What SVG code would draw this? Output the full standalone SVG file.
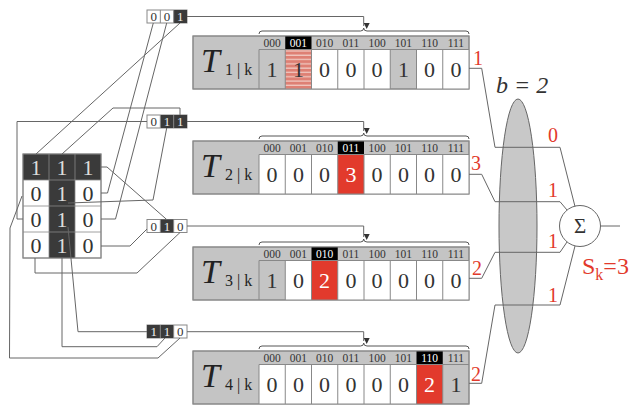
<svg xmlns="http://www.w3.org/2000/svg" width="641" height="405" viewBox="0 0 641 405" font-family="'Liberation Serif', 'DejaVu Serif', 'Noto Serif', serif">
<style>
text{font-family:'Liberation Serif','DejaVu Serif','Noto Serif',serif}
.w{fill:none;stroke:#666;stroke-width:1}
.g{fill:#c4c4c4}
.dk{fill:#3a3a3a}
.rd{fill:#e23a2c}
.hd{font-size:11.5px;fill:#333;text-anchor:middle}
.hw{font-size:11.5px;fill:#fff;text-anchor:middle}
.v{font-size:22px;fill:#333;text-anchor:middle}
.vw{font-size:22px;fill:#fff;text-anchor:middle}
.sm{font-size:13px;fill:#333;text-anchor:middle}
.smw{font-size:13px;fill:#eee;text-anchor:middle}
.gv{font-size:22px;fill:#333;text-anchor:middle}
.gvw{font-size:22px;fill:#ddd;text-anchor:middle}
.T{font-size:34px;font-style:italic;fill:#222}
.sub{font-size:16px;fill:#222}
.red{font-size:20px;fill:#e23a2c;text-anchor:middle}
.br{fill:none;stroke:#555;stroke-width:1}
</style>
<defs>
<pattern id="stripe" patternUnits="userSpaceOnUse" width="4" height="4.3">
<rect width="4" height="4.3" fill="#de8074"/>
<rect y="3" width="4" height="1.3" fill="#f0c8c0"/>
</pattern>
<marker id="ah" viewBox="0 0 6 6" refX="3" refY="6" markerWidth="6" markerHeight="6" orient="auto" markerUnits="userSpaceOnUse">
<path d="M0,0 L6,0 L3,6 Z" fill="#333" transform="rotate(-90 3 3)"/>
</marker>
</defs>

<g id="grid">
<rect x="23" y="154" width="78" height="104" fill="#fff" stroke="#888"/>
<rect x="23" y="154" width="78" height="26" class="dk"/>
<rect x="49" y="154" width="26" height="104" class="dk"/>
<path d="M23,180 H101 M23,206 H101 M23,232 H101 M49,154 V258 M75,154 V258" stroke="#888" stroke-width="0.8" fill="none"/>
<rect x="23" y="154" width="78" height="104" fill="none" stroke="#888"/>
<text x="36" y="175" class="gvw">1</text><text x="62" y="175" class="gvw">1</text><text x="88" y="175" class="gvw">1</text>
<text x="36" y="201" class="gv">0</text><text x="62" y="201" class="gvw">1</text><text x="88" y="201" class="gv">0</text>
<text x="36" y="227" class="gv">0</text><text x="62" y="227" class="gvw">1</text><text x="88" y="227" class="gv">0</text>
<text x="36" y="253" class="gv">0</text><text x="62" y="253" class="gvw">1</text><text x="88" y="253" class="gv">0</text>
</g>

<g id="box001">
<rect x="147" y="10" width="40" height="13" fill="#fff" stroke="#888"/>
<rect x="173.67" y="10" width="13.33" height="13" class="dk"/>
<path d="M160.33,10 V23 M173.67,10 V23" stroke="#888"/>
<text x="153.7" y="21" class="sm">0</text><text x="167" y="21" class="sm">0</text><text x="180.3" y="21" class="smw">1</text>
</g>
<g id="box011">
<rect x="147" y="115" width="40" height="13" fill="#fff" stroke="#888"/>
<rect x="160.33" y="115" width="26.67" height="13" class="dk"/>
<path d="M160.33,115 V128 M173.67,115 V128" stroke="#888"/>
<text x="153.7" y="126" class="sm">0</text><text x="167" y="126" class="smw">1</text><text x="180.3" y="126" class="smw">1</text>
</g>
<g id="box010">
<rect x="147" y="219.5" width="40" height="13" fill="#fff" stroke="#888"/>
<rect x="160.33" y="219.5" width="13.33" height="13" class="dk"/>
<path d="M160.33,219.5 V232.5 M173.67,219.5 V232.5" stroke="#888"/>
<text x="153.7" y="230.5" class="sm">0</text><text x="167" y="230.5" class="smw">1</text><text x="180.3" y="230.5" class="sm">0</text>
</g>
<g id="box110">
<rect x="147" y="325" width="40" height="13" fill="#fff" stroke="#888"/>
<rect x="147" y="325" width="26.67" height="13" class="dk"/>
<path d="M160.33,325 V338 M173.67,325 V338" stroke="#888"/>
<text x="153.7" y="336" class="smw">1</text><text x="167" y="336" class="smw">1</text><text x="180.3" y="336" class="sm">0</text>
</g>

<g id="T1">
<rect x="193" y="36" width="276" height="53" class="g" stroke="#888"/>
<rect x="285.25" y="36" width="26.25" height="13.5" fill="#000"/>
<rect x="285.25" y="49.5" width="26.25" height="39.5" fill="url(#stripe)"/>
<rect x="311.5" y="49.5" width="78.75" height="39.5" fill="#fff"/>
<rect x="416.5" y="49.5" width="52.5" height="39.5" fill="#fff"/>
<path d="M259,49.5 H469 M259,49.5 V89 M285.25,49.5 V89 M311.5,49.5 V89 M337.75,49.5 V89 M364,49.5 V89 M390.25,49.5 V89 M416.5,49.5 V89 M442.75,49.5 V89" stroke="#888" fill="none"/>
<rect x="193" y="36" width="276" height="53" fill="none" stroke="#888"/>
<text x="201" y="72" class="T">T</text><text x="225" y="75" class="sub">1 | k</text>
<text x="272.1" y="46.5" class="hd">000</text><text x="298.4" y="46.5" class="hw">001</text><text x="324.6" y="46.5" class="hd">010</text><text x="350.9" y="46.5" class="hd">011</text><text x="377.1" y="46.5" class="hd">100</text><text x="403.4" y="46.5" class="hd">101</text><text x="429.6" y="46.5" class="hd">110</text><text x="455.9" y="46.5" class="hd">111</text>
<text x="272.1" y="77" class="v">1</text><text x="298.4" y="77" class="v">1</text><text x="324.6" y="77" class="v">0</text><text x="350.9" y="77" class="v">0</text><text x="377.1" y="77" class="v">0</text><text x="403.4" y="77" class="v">1</text><text x="429.6" y="77" class="v">0</text><text x="455.9" y="77" class="v">0</text>
<text x="478" y="65" class="red">1</text>
</g>

<g id="T2">
<rect x="193" y="141" width="276" height="53" class="g" stroke="#888"/>
<rect x="337.75" y="141" width="26.25" height="13.5" fill="#000"/>
<rect x="259" y="154.5" width="210" height="39.5" fill="#fff"/>
<rect x="337.75" y="154.5" width="26.25" height="39.5" class="rd"/>
<path d="M259,154.5 H469 M259,154.5 V194 M285.25,154.5 V194 M311.5,154.5 V194 M337.75,154.5 V194 M364,154.5 V194 M390.25,154.5 V194 M416.5,154.5 V194 M442.75,154.5 V194" stroke="#888" fill="none"/>
<rect x="193" y="141" width="276" height="53" fill="none" stroke="#888"/>
<text x="201" y="177" class="T">T</text><text x="225" y="180" class="sub">2 | k</text>
<text x="272.1" y="151.5" class="hd">000</text><text x="298.4" y="151.5" class="hd">001</text><text x="324.6" y="151.5" class="hd">010</text><text x="350.9" y="151.5" class="hw">011</text><text x="377.1" y="151.5" class="hd">100</text><text x="403.4" y="151.5" class="hd">101</text><text x="429.6" y="151.5" class="hd">110</text><text x="455.9" y="151.5" class="hd">111</text>
<text x="272.1" y="182" class="v">0</text><text x="298.4" y="182" class="v">0</text><text x="324.6" y="182" class="v">0</text><text x="350.9" y="182" class="vw">3</text><text x="377.1" y="182" class="v">0</text><text x="403.4" y="182" class="v">0</text><text x="429.6" y="182" class="v">0</text><text x="455.9" y="182" class="v">0</text>
<text x="476" y="170" class="red">3</text>
</g>

<g id="T3">
<rect x="193" y="247" width="276" height="53" class="g" stroke="#888"/>
<rect x="311.5" y="247" width="26.25" height="13.5" fill="#000"/>
<rect x="285.25" y="260.5" width="183.75" height="39.5" fill="#fff"/>
<rect x="311.5" y="260.5" width="26.25" height="39.5" class="rd"/>
<path d="M259,260.5 H469 M259,260.5 V300 M285.25,260.5 V300 M311.5,260.5 V300 M337.75,260.5 V300 M364,260.5 V300 M390.25,260.5 V300 M416.5,260.5 V300 M442.75,260.5 V300" stroke="#888" fill="none"/>
<rect x="193" y="247" width="276" height="53" fill="none" stroke="#888"/>
<text x="201" y="283" class="T">T</text><text x="225" y="286" class="sub">3 | k</text>
<text x="272.1" y="257.5" class="hd">000</text><text x="298.4" y="257.5" class="hd">001</text><text x="324.6" y="257.5" class="hw">010</text><text x="350.9" y="257.5" class="hd">011</text><text x="377.1" y="257.5" class="hd">100</text><text x="403.4" y="257.5" class="hd">101</text><text x="429.6" y="257.5" class="hd">110</text><text x="455.9" y="257.5" class="hd">111</text>
<text x="272.1" y="288" class="v">1</text><text x="298.4" y="288" class="v">0</text><text x="324.6" y="288" class="vw">2</text><text x="350.9" y="288" class="v">0</text><text x="377.1" y="288" class="v">0</text><text x="403.4" y="288" class="v">0</text><text x="429.6" y="288" class="v">0</text><text x="455.9" y="288" class="v">0</text>
<text x="477" y="275" class="red">2</text>
</g>

<g id="T4">
<rect x="193" y="351" width="276" height="53" class="g" stroke="#888"/>
<rect x="416.5" y="351" width="26.25" height="13.5" fill="#000"/>
<rect x="259" y="364.5" width="157.5" height="39.5" fill="#fff"/>
<rect x="416.5" y="364.5" width="26.25" height="39.5" class="rd"/>
<path d="M259,364.5 H469 M259,364.5 V404 M285.25,364.5 V404 M311.5,364.5 V404 M337.75,364.5 V404 M364,364.5 V404 M390.25,364.5 V404 M416.5,364.5 V404 M442.75,364.5 V404" stroke="#888" fill="none"/>
<rect x="193" y="351" width="276" height="53" fill="none" stroke="#888"/>
<text x="201" y="387" class="T">T</text><text x="225" y="390" class="sub">4 | k</text>
<text x="272.1" y="361.5" class="hd">000</text><text x="298.4" y="361.5" class="hd">001</text><text x="324.6" y="361.5" class="hd">010</text><text x="350.9" y="361.5" class="hd">011</text><text x="377.1" y="361.5" class="hd">100</text><text x="403.4" y="361.5" class="hd">101</text><text x="429.6" y="361.5" class="hw">110</text><text x="455.9" y="361.5" class="hd">111</text>
<text x="272.1" y="392" class="v">0</text><text x="298.4" y="392" class="v">0</text><text x="324.6" y="392" class="v">0</text><text x="350.9" y="392" class="v">0</text><text x="377.1" y="392" class="v">0</text><text x="403.4" y="392" class="v">0</text><text x="429.6" y="392" class="vw">2</text><text x="455.9" y="392" class="v">1</text>
<text x="476" y="381" class="red">2</text>
</g>

<g id="braces">
<path class="br" d="M259,34 Q259,31 262,31 H360.5 Q363.7,31 363.7,28 Q363.7,31 367,31 H466 Q469,31 469,34"/>
<path class="br" d="M259,139 Q259,136 262,136 H360.5 Q363.7,136 363.7,133 Q363.7,136 367,136 H466 Q469,136 469,139"/>
<path class="br" d="M259,245 Q259,242 262,242 H360.5 Q363.7,242 363.7,239 Q363.7,242 367,242 H466 Q469,242 469,245"/>
<path class="br" d="M259,349 Q259,346 262,346 H360.5 Q363.7,346 363.7,343 Q363.7,346 367,346 H466 Q469,346 469,349"/>
</g>

<g id="ellipse">
<ellipse cx="518" cy="226" rx="19" ry="127" fill="#c8c8c8" stroke="#666"/>
<text x="496" y="93" font-size="24" font-style="italic" fill="#333">b = 2</text>
</g>

<g id="sum">
<circle cx="580" cy="226" r="20.5" fill="#fff" stroke="#666"/>
<text x="580" y="233" font-size="21" fill="#333" text-anchor="middle">Σ</text>
</g>

<g id="connectors">
<polyline class="w" points="153.3,23 107.5,193 101,193"/>
<polyline class="w" points="166.7,23 115.5,219 101,219"/>
<polyline class="w" points="180,23 36,154"/>
<polyline class="w" points="147,121.5 17,121.5 17,219 23,219"/>
<polyline class="w" points="166.7,128 153,200 68,203"/>
<polyline class="w" points="180,115 180,108 113,108 62,154"/>
<polyline class="w" points="101,167 107,167 166.7,219.5"/>
<polyline class="w" points="101,246 130,246 147,229"/>
<polyline class="w" points="180,232.5 137,273 35,273 35,258"/>
<polyline class="w" points="68,227 78,331.7 147,331.7"/>
<polyline class="w" points="165,338 157,346.7 62,346.7 62,258"/>
<polyline class="w" points="180,338 158,358 9.5,358 10,228 22,196"/>
<path class="w" d="M187,16.5 H363.7 V26" marker-end="url(#ah)"/>
<path class="w" d="M187,121.5 H363.7 V131" marker-end="url(#ah)"/>
<path class="w" d="M187,226 H363.7 V237" marker-end="url(#ah)"/>
<path class="w" d="M187,331.7 H363.7 V341" marker-end="url(#ah)"/>
<path class="w" d="M469,68.3 H481.7 L495,147.3 H560 L575,206.5"/>
<path class="w" d="M469,174.3 H481.7 L495,201.7 H560 L567,210"/>
<path class="w" d="M469,278.3 H481.7 L495,252.3 H560 L567,242"/>
<path class="w" d="M469,383.3 H481.7 L495,305 H560 L575,246"/>
<path class="w" d="M600.5,226 H620"/>
</g>

<g id="labels">
<text x="553" y="142" class="red">0</text>
<text x="553" y="197" class="red">1</text>
<text x="553" y="248" class="red">1</text>
<text x="553" y="302" class="red">1</text>
<text x="582" y="274" font-size="24" fill="#e23a2c">S<tspan font-size="16" dy="6">k</tspan><tspan dy="-6">=3</tspan></text>
</g>
</svg>
